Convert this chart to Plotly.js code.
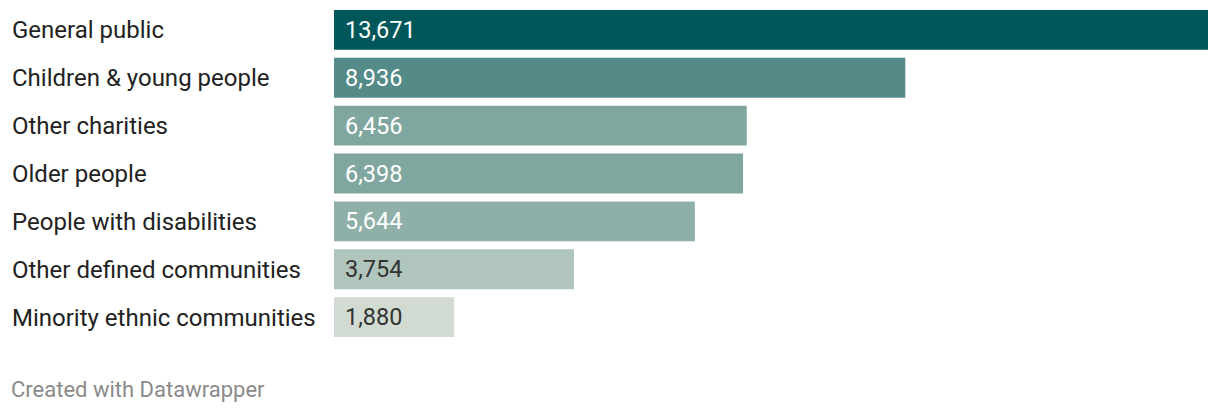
<!DOCTYPE html>
<html>
<head>
<meta charset="utf-8">
<script src="https://cdn.plot.ly/plotly-3.0.1.min.js"></script>
<style>
html,body{margin:0;padding:0;background:#fff;}
#chart{width:1220px;height:414px;}
</style>
</head>
<body>
<div id="chart"></div>
<script>
const categories = ["General public","Children & young people","Other charities","Older people","People with disabilities","Other defined communities","Minority ethnic communities"];
const values = [13671, 8936, 6456, 6398, 5644, 3754, 1880];
const valueLabels = ["13,671","8,936","6,456","6,398","5,644","3,754","1,880"];
const barColors = ["#00575a","#548a87","#80a6a0","#80a6a0","#8eb0a8","#b0c5bc","#d2dbd1"];
const labelColors = ["#ffffff","#ffffff","#ffffff","#ffffff","#ffffff","#333333","#333333"];
const footer = "Created with Datawrapper";

const W = 1220, H = 414;
const ml = 334, mr = 12, mt = 5.5, mb = 72.5;
const plotW = W - ml - mr, plotH = H - mt - mb;

const trace = {
  type: "bar",
  orientation: "h",
  y: categories,
  x: values,
  marker: {color: barColors, line: {width: 0}},
  hoverinfo: "none"
};

const annotations = [];
categories.forEach((c, i) => {
  annotations.push({
    xref: "paper", yref: "y",
    x: -(ml - 10) / plotW, y: c, yshift: -0.5,
    text: c, showarrow: false,
    xanchor: "left", yanchor: "middle",
    font: {family: "Roboto", size: 24, color: "#222222"}
  });
  annotations.push({
    xref: "x", yref: "y",
    x: 0, y: c, xshift: 9,
    text: valueLabels[i], showarrow: false,
    xanchor: "left", yanchor: "middle",
    font: {family: "Roboto", size: 23.5, color: labelColors[i]}
  });
});
annotations.push({
  xref: "paper", yref: "paper",
  x: -(ml - 9) / plotW, y: -(390 - (H - mb)) / plotH,
  text: footer, showarrow: false,
  xanchor: "left", yanchor: "middle",
  font: {family: "Roboto", size: 22, color: "#8a8a8a"}
});

const layout = {
  width: W, height: H,
  margin: {l: ml, r: mr, t: mt, b: mb, pad: 0},
  paper_bgcolor: "#ffffff", plot_bgcolor: "#ffffff",
  bargap: 8/48,
  showlegend: false,
  xaxis: {range: [0, 13671], visible: false, fixedrange: true},
  yaxis: {autorange: "reversed", visible: false, fixedrange: true},
  annotations: annotations,
  font: {family: "Roboto"}
};

Plotly.newPlot("chart", [trace], layout, {displayModeBar: false, staticPlot: true});
</script>
</body>
</html>
